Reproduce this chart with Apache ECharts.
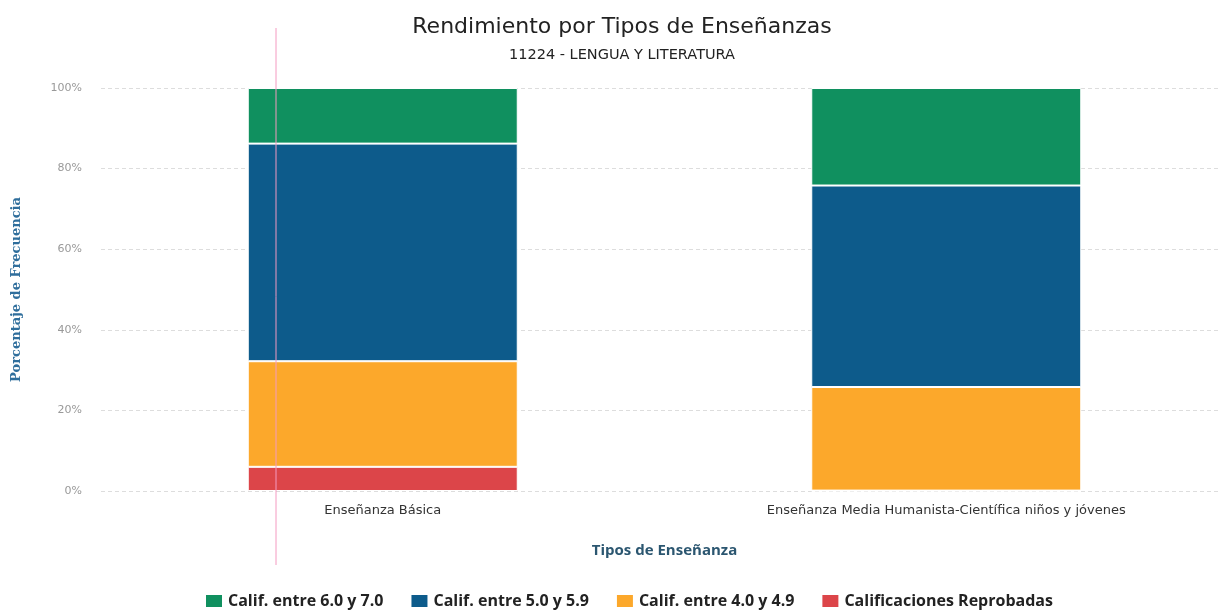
<!DOCTYPE html>
<html>
<head>
<meta charset="utf-8">
<script src="https://cdn.jsdelivr.net/npm/echarts@6/dist/echarts.min.js"></script>
<style>
  html, body { margin: 0; padding: 0; background: #fff; }
  #chart { width: 1221px; height: 612px; }
</style>
</head>
<body>
<div id="chart"></div>
<script>
// categorias del eje x
const categorias = ['Enseñanza Básica', 'Enseñanza Media Humanista-Científica niños y jóvenes'];
// porcentajes por tramo de calificación
const reprobadas = [6.0, 0.1];
const calif40a49 = [26.2, 25.7];
const calif50a59 = [54.0, 50.0];
const calif60a70 = [13.8, 24.2];
const ticksY = [0, 20, 40, 60, 80, 100];

const chart = echarts.init(document.getElementById('chart'));

//series apiladas, de abajo hacia arriba
const series = [
  { name: 'Calificaciones Reprobadas', data: reprobadas, color: '#dc4549' },
  { name: 'Calif. entre 4.0 y 4.9', data: calif40a49, color: '#fca82b' },
  { name: 'Calif. entre 5.0 y 5.9', data: calif50a59, color: '#0d5b8b' },
  { name: 'Calif. entre 6.0 y 7.0', data: calif60a70, color: '#10905f' }
].map(s => ({
  type: 'bar',
  name: s.name,
  stack: 'total',
  barWidth: 270,
  data: s.data,
  itemStyle: { color: s.color, borderColor: '#fff', borderWidth: 1 }
}));

const option = {
  animation: false,
  title: {
    text: 'Rendimiento por Tipos de Enseñanzas',
    subtext: '11224 - LENGUA Y LITERATURA',
    left: 617,
    textAlign: 'center',
    top: 11,
    itemGap: 10,
    textStyle: { fontFamily: 'DejaVu Sans', fontSize: 22, fontWeight: 'normal', color: '#222' },
    subtextStyle: { fontFamily: 'DejaVu Sans', fontSize: 14.5, color: '#222' }
  },
  legend: {
    data: ['Calif. entre 6.0 y 7.0', 'Calif. entre 5.0 y 5.9', 'Calif. entre 4.0 y 4.9', 'Calificaciones Reprobadas'],
    top: 588,
    left: 199,
    icon: 'rect',
    itemWidth: 18,
    itemHeight: 14,
    itemGap: 26,
    textStyle: { fontFamily: 'Open Sans', fontSize: 16, fontWeight: 'bold', color: '#222' }
  },
  grid: { left: 101, width: 1127, top: 88, bottom: 121, outerBoundsMode: 'none' },
  xAxis: {
    type: 'category',
    data: categorias,
    name: 'Tipos de Enseñanza',
    nameLocation: 'middle',
    nameGap: 52,
    nameTextStyle: { fontFamily: 'Open Sans', fontSize: 15, fontWeight: 'bold', color: '#2b5670' },
    axisLine: { show: false },
    axisTick: { show: false },
    axisLabel: { fontFamily: 'DejaVu Sans', fontSize: 13, color: '#333', margin: 13 }
  },
  yAxis: {
    type: 'value',
    min: ticksY[0],
    max: ticksY[ticksY.length - 1],
    interval: 20,
    name: 'Porcentaje de Frecuencia',
    nameLocation: 'middle',
    nameGap: 78,
    nameTextStyle: { fontFamily: 'DejaVu Serif', fontSize: 13, fontWeight: 'bold', color: '#2f6e9c' },
    axisLabel: { formatter: '{value}%', fontFamily: 'DejaVu Sans', fontSize: 11, color: '#999', margin: 19 },
    splitLine: { lineStyle: { color: '#ddd', type: [4, 3] } }
  },
  graphic: [{
    type: 'line',
    shape: { x1: 276, y1: 28, x2: 276, y2: 565 },
    style: { stroke: '#f49ac1', lineWidth: 1 },
    z: 100
  }],
  series: series
};

chart.setOption(option);
</script>
</body>
</html>
